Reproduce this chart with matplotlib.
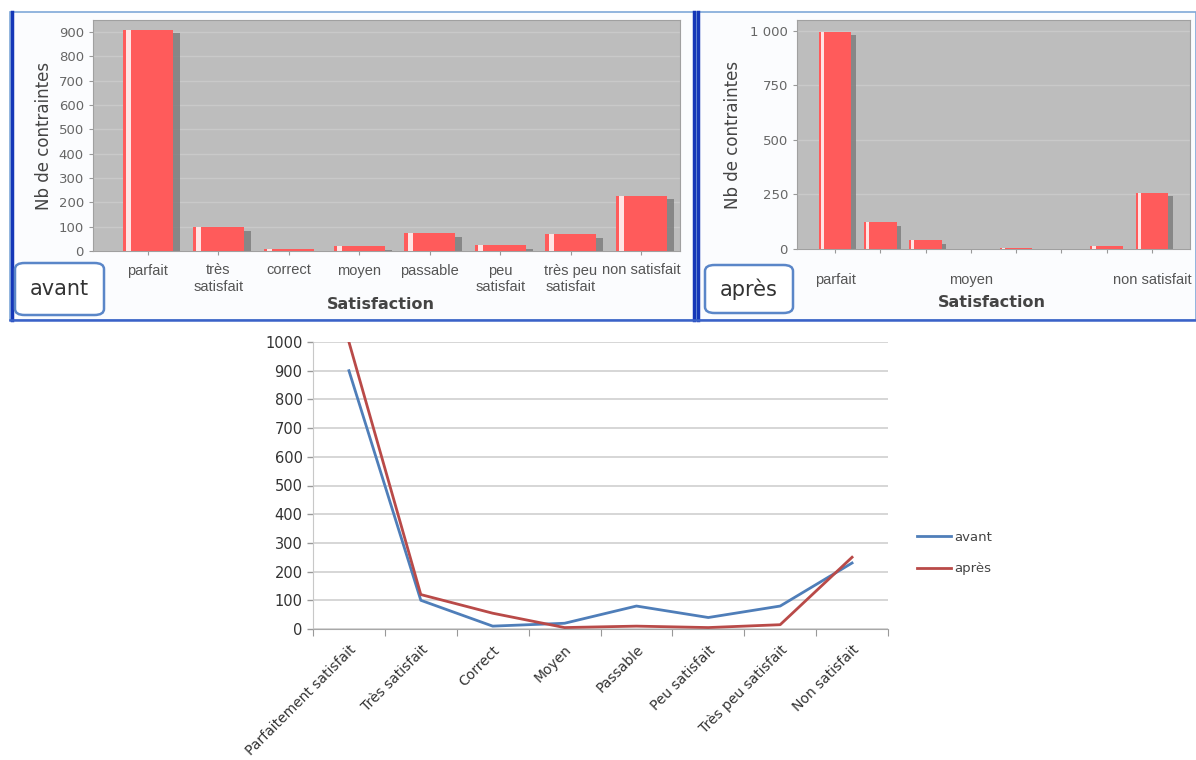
import numpy as np
import matplotlib.pyplot as plt
from matplotlib.patches import Rectangle, FancyBboxPatch

# categories
cats_short = ['parfait', 'très\nsatisfait', 'correct', 'moyen', 'passable',
              'peu\nsatisfait', 'très peu\nsatisfait', 'non satisfait']
cats_long = ['Parfaitement satisfait', 'Très satisfait', 'Correct', 'Moyen',
             'Passable', 'Peu satisfait', 'Très peu satisfait', 'Non satisfait']

# values
bar_avant = [910, 97, 10, 20, 72, 25, 70, 228]
bar_apres = [995, 122, 40, 0, 5, 0, 15, 257]

# values
line_avant = [900, 100, 10, 20, 80, 40, 80, 230]
line_apres = [1000, 120, 55, 5, 10, 5, 15, 250]

W, H = 1196, 760
fig = plt.figure(figsize=(W / 100, H / 100), dpi=100)
fig.patch.set_facecolor('white')


def fx(px):
    return px / W


def fy(py):
    return 1 - py / H


# panel frames (behind the axes)
for (x0, x1) in [(10, 694), (696, 1196)]:
    fig.patches.append(Rectangle((fx(x0), fy(320)), fx(x1 - x0), (320 - 12) / H,
                                 transform=fig.transFigure, facecolor='#FBFCFE',
                                 edgecolor='#7FA8D8', linewidth=1.2, zorder=-2))
for xb in [12, 694, 698]:
    fig.add_artist(plt.Line2D([fx(xb), fx(xb)], [fy(320), fy(12)],
                              transform=fig.transFigure, color='#1537B8', linewidth=2.5))
fig.add_artist(plt.Line2D([fx(10), fx(1196)], [fy(320), fy(320)],
                          transform=fig.transFigure, color='#3A62C8', linewidth=1.8))


def bar_panel(rect, values, xlim, ylim, yticks, ytl, xlabels):
    ax = fig.add_axes(rect)
    ax.set_facecolor('#BDBDBD')
    x = np.arange(len(values))
    w = 0.72
    # shadow
    ax.bar(x + 0.1, np.maximum(np.array(values) - 15, 0), width=w, color='#7A7A7A',
           alpha=0.8, zorder=2)
    ax.bar(x, values, width=w, color='#FF5B5B', zorder=3)
    ax.bar(x - w / 2 + 0.08, values, width=0.07, color='#FFE4E4', zorder=4)
    for t in yticks:
        ax.axhline(t, color='#C9C9C9', linewidth=1.0, zorder=1)
    ax.set_xlim(*xlim)
    ax.set_ylim(*ylim)
    ax.set_yticks(yticks)
    ax.set_yticklabels(ytl, fontsize=9.5, color='#666666')
    ax.set_xticks(x)
    ax.set_xticklabels(xlabels, fontsize=10.5, color='#555555', linespacing=1.25,
                       family='Liberation Sans')
    ax.tick_params(axis='both', length=3, color='#999999')
    ax.tick_params(axis='x', pad=6)
    for s in ax.spines.values():
        s.set_color('#A0A0A0')
    ax.set_ylabel('Nb de contraintes', fontsize=12, color='#444444')
    ax.set_xlabel('Satisfaction', fontsize=11.5, color='#444444', fontweight='bold',
                  labelpad=2)
    return ax


ax1 = bar_panel([fx(93), fy(251), fx(587), 231 / H], bar_avant, (-0.78, 7.55),
                (0, 950), list(range(0, 1000, 100)),
                [str(v) for v in range(0, 1000, 100)], cats_short)
ax1.yaxis.set_label_coords(-0.068, 0.5)
ax1.xaxis.set_label_coords(0.49, -0.2)

labels_r = ['' for _ in cats_short]
labels_r[0], labels_r[3], labels_r[7] = 'parfait', 'moyen', 'non satisfait'
ax2 = bar_panel([fx(797), fy(249), fx(393), 229 / H], bar_apres, (-0.84, 7.84),
                (0, 1050), [0, 250, 500, 750, 1000],
                ['0', '250', '500', '750', '1 000'], labels_r)
ax2.tick_params(axis='x', pad=14)
ax2.yaxis.set_label_coords(-0.14, 0.5)
ax2.xaxis.set_label_coords(0.496, -0.2)

# labelled boxes
for (x0, y0, x1, y1, txt) in [(15, 263, 104, 315, 'avant'), (705, 265, 793, 313, 'après')]:
    fig.patches.append(FancyBboxPatch((fx(x0), fy(y1)), fx(x1 - x0), (y1 - y0) / H,
                                      boxstyle='round,pad=0,rounding_size=0.008',
                                      transform=fig.transFigure, facecolor='white',
                                      edgecolor='#5A86C8', linewidth=1.8, zorder=3))
    fig.text(fx((x0 + x1) / 2), fy((y0 + y1) / 2), txt, fontsize=15, color='#333333',
             ha='center', va='center', zorder=4)

# line chart
ax3 = fig.add_axes([fx(313), fy(629), fx(575), 287 / H])
x = np.arange(len(cats_long))
ax3.plot(x, line_avant, color='#4F7EB9', linewidth=2, label='avant')
ax3.plot(x, line_apres, color='#B94A48', linewidth=2, label='après')
ax3.set_xlim(-0.5, 7.5)
ax3.set_ylim(0, 1000)
ax3.set_yticks(range(0, 1001, 100))
ax3.tick_params(axis='y', labelsize=10.5, colors='#333333', length=4, width=1)
ax3.tick_params(axis='y', color='#999999')
ax3.yaxis.grid(True, color='#D0D0D0', linewidth=1.2)
ax3.set_axisbelow(True)
ax3.set_xticks(np.arange(-0.5, 8, 1))
ax3.set_xticklabels([])
ax3.tick_params(axis='x', direction='out', length=5, color='#999999')
ax3.set_xticks(x, minor=True)
ax3.set_xticklabels(cats_long, minor=True, rotation=45, ha='right', rotation_mode='anchor',
                    fontsize=10, color='#333333')
ax3.tick_params(axis='x', which='minor', length=0, pad=10)
for s in ['top', 'right']:
    ax3.spines[s].set_visible(False)
ax3.spines['left'].set_color('#C8C8C8')
ax3.spines['bottom'].set_color('#A8A8A8')
ax3.legend(loc='center left', bbox_to_anchor=(1.03, 0.265), frameon=False, fontsize=9.5,
           handlelength=2.6, handletextpad=0.2, labelspacing=1.4, labelcolor='#444444')

fig.savefig('out.png', dpi=100)
